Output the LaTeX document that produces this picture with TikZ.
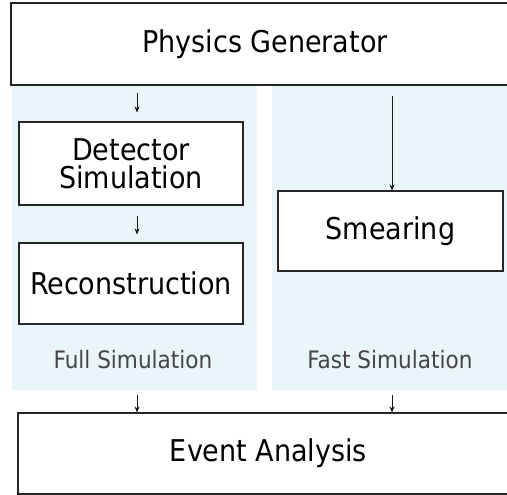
\documentclass[tikz,border=0pt]{standalone}
\usepackage{fontspec}
\setmainfont{DejaVu Sans Condensed}
\usetikzlibrary{arrows.meta}
\definecolor{panelblue}{HTML}{EAF5F9}
\definecolor{labelgray}{HTML}{454545}
\tikzset{
  box/.style={draw=black!85, line width=1.1pt, fill=white, inner sep=0pt, align=center, font=\fontsize{30}{28}\selectfont},
  panel/.style={fill=panelblue, draw=none, inner sep=0pt},
  plabel/.style={text=labelgray, font=\fontsize{24}{28}\selectfont, inner sep=0pt},
  arr/.style={-{Stealth[length=6pt,width=5pt]}, line width=0.8pt, draw=black!90},
}
\begin{document}
\begin{tikzpicture}[x=1pt,y=-1pt]
\useasboundingbox (0,0) rectangle (507,495);
\fill[white] (0,0) rectangle (507,495);
% panels
\node[panel, minimum width=245pt, minimum height=304pt] (fullpanel) at (134.5,238) {};
\node[panel, minimum width=240pt, minimum height=304pt] (fastpanel) at (392,238) {};
% boxes
\node[box, minimum width=508pt, minimum height=82pt] (pg) at (265,44) {Physics Generator};
\node[box, minimum width=224pt, minimum height=83pt] (det) at (131,163.5) {Detector\\Simulation};
\node[box, minimum width=224pt, minimum height=81pt] (reco) at (131,283.5) {\raisebox{-4pt}{Reconstruction}};
\node[box, minimum width=225pt, minimum height=80pt] (smear) at (390.5,231) {Smearing};
\node[box, minimum width=501pt, minimum height=81pt] (ev) at (268.5,453.5) {Event Analysis};
% labels
\node[plabel] (fulllab) at (133,360) {Full Simulation};
\node[plabel] (fastlab) at (390,360) {Fast Simulation};
% arrows
\draw[arr, shorten <=7pt, shorten >=9pt] (pg.south -| 137,0) -- (det.north -| 137,0);
\draw[arr, shorten <=10pt, shorten >=8pt] (det.south -| 137,0) -- (reco.north -| 137,0);
\draw[arr, shorten <=10pt] (pg.south -| 392,0) -- (smear.north -| 392,0);
\draw[arr, shorten <=5pt] (fullpanel.south -| 137,0) -- (ev.north -| 137,0);
\draw[arr, shorten <=5pt] (fastpanel.south -| 392,0) -- (ev.north -| 392,0);
\end{tikzpicture}
\end{document}
